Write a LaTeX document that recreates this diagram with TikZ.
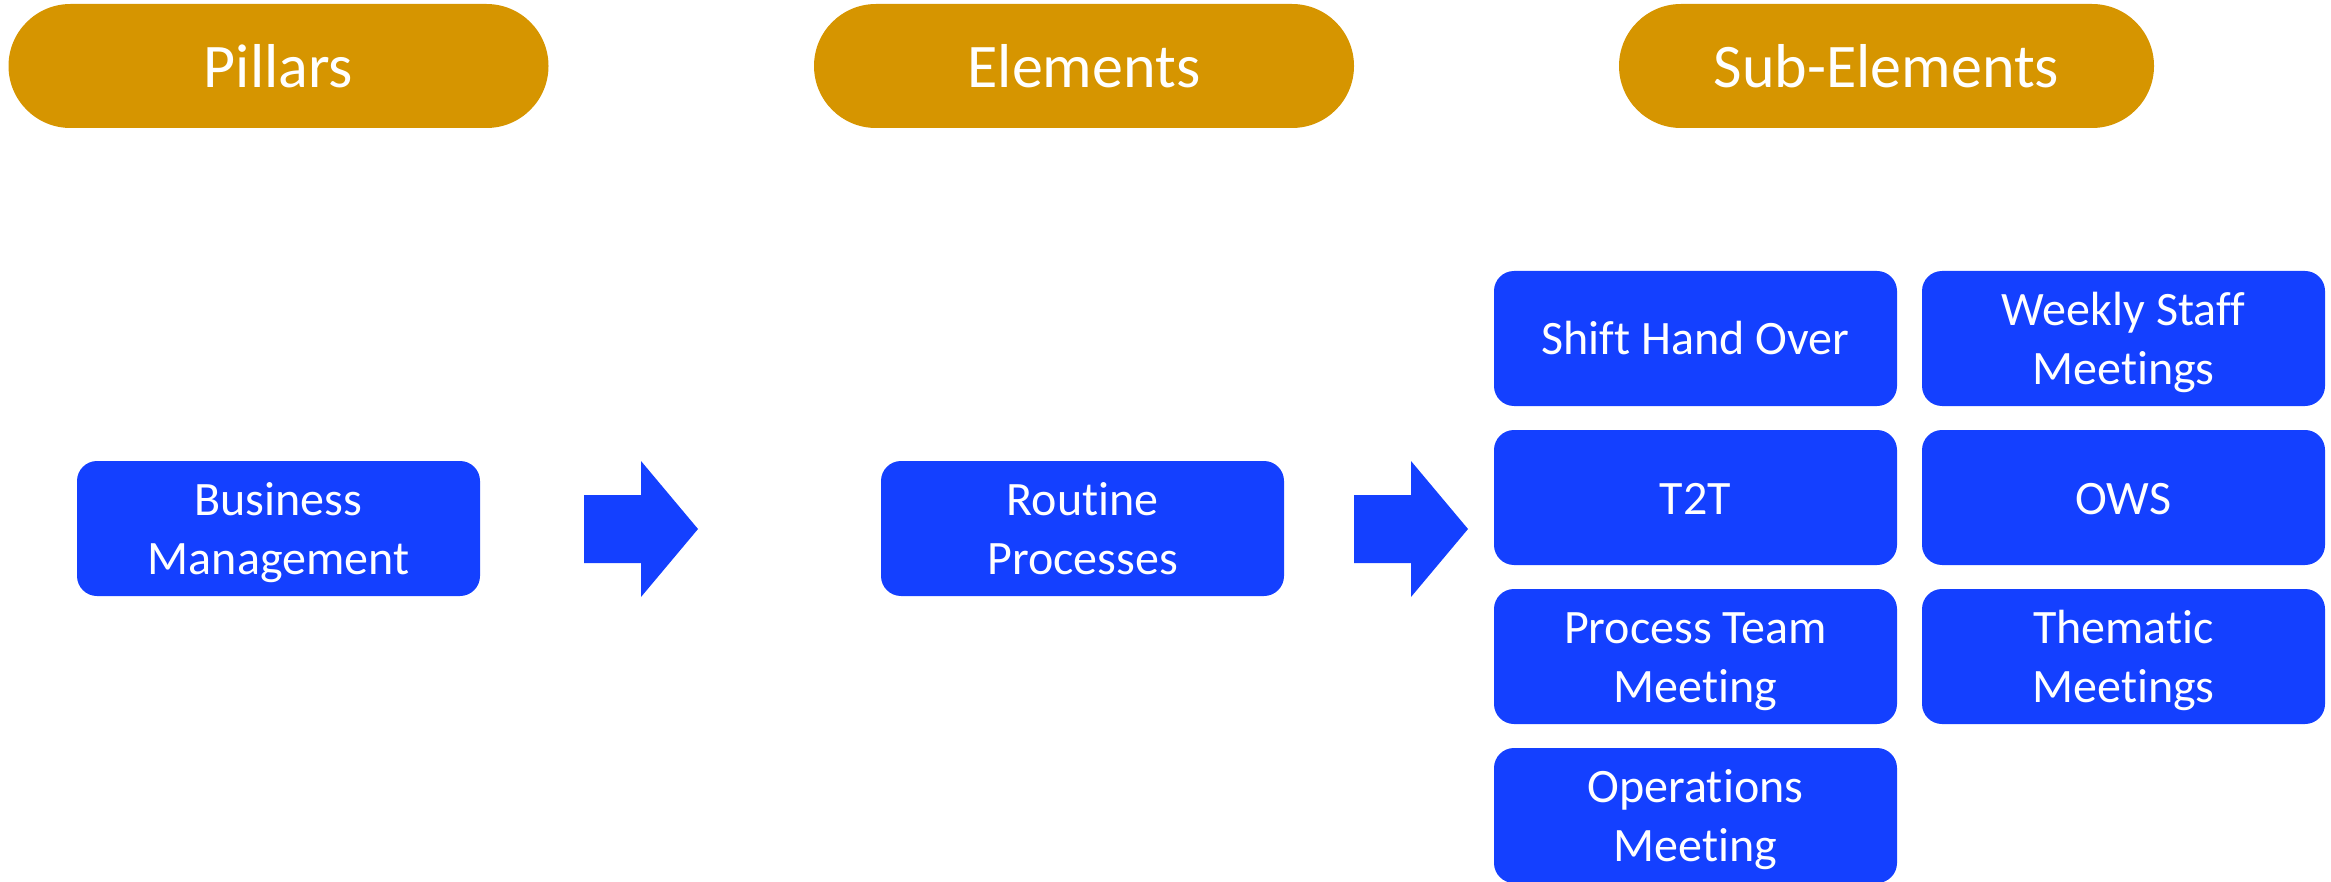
\documentclass[tikz,border=0pt]{standalone}
\usepackage{fontspec}
\setmainfont{Carlito}[Ligatures=NoCommon]
\definecolor{pillgold}{RGB}{214,149,0}
\definecolor{boxblue}{RGB}{20,64,255}
% struts that fix the first-line height and last-line depth of box labels
\newcommand{\topstrut}{\rule{0pt}{48pt}}
\newcommand{\botstrut}{\rule[-15pt]{0pt}{15pt}}
\begin{document}
\begin{tikzpicture}[x=1pt,y=-1pt,
  header/.style={rectangle, rounded corners=62pt, fill=pillgold, text=white,
    minimum width=540pt, minimum height=124pt, inner sep=0pt,
    font=\fontsize{62}{74}\selectfont,
    execute at begin node={\rule{0pt}{62pt}},
    execute at end node={\rule[-19.4pt]{0pt}{19.4pt}}},
  itembox/.style={rectangle, rounded corners=20pt, fill=boxblue, text=white,
    minimum width=403pt, minimum height=135pt, inner sep=0pt, align=center,
    font=\fontsize{48}{58.6}\selectfont},
  blockarrow/.style={fill=boxblue}]
\useasboundingbox (0,0) rectangle (2331,882);

% column headers
\node[header] (pillars) at (278.5,66) {Pillars};
\node[header] (elements) at (1084,66) {Elements};
\node[header, minimum width=535pt] (subelements) at (1886.5,66) {Sub-Elements};

% pillar and element
\node[itembox] (business) at (278.5,528.5) {\topstrut Business\\Management\botstrut};
\node[itembox] (routine) at (1082.5,528.5) {\topstrut Routine\\Processes\botstrut};

% sub-elements, two columns
\node[itembox] (shift) at (1695.5,338.5) {\topstrut Shift Hand Over\botstrut};
\node[itembox] (t2t) at (1695.5,497.5) {\topstrut T2T\botstrut};
\node[itembox] (ptm) at (1695.5,656.5) {\topstrut Process Team\\Meeting\botstrut};
\node[itembox] (ops) at (1695.5,815.5) {\topstrut Operations\\Meeting\botstrut};
\node[itembox] (weekly) at (2123.5,338.5) {\topstrut Weekly Staff\\Meetings\botstrut};
\node[itembox] (ows) at (2123.5,497.5) {\topstrut OWS\botstrut};
\node[itembox] (thematic) at (2123.5,656.5) {\topstrut Thematic\\Meetings\botstrut};

% block arrows between the stages
\coordinate (a1) at (584,529);
\coordinate (a2) at (1354,529);
\foreach \a in {a1,a2}{
  \fill[blockarrow] (\a) ++(0,-34) -- ++(57,0) -- ++(0,-34) -- ++(57,68)
    -- ++(-57,68) -- ++(0,-34) -- ++(-57,0) -- cycle;
}
\end{tikzpicture}
\end{document}
